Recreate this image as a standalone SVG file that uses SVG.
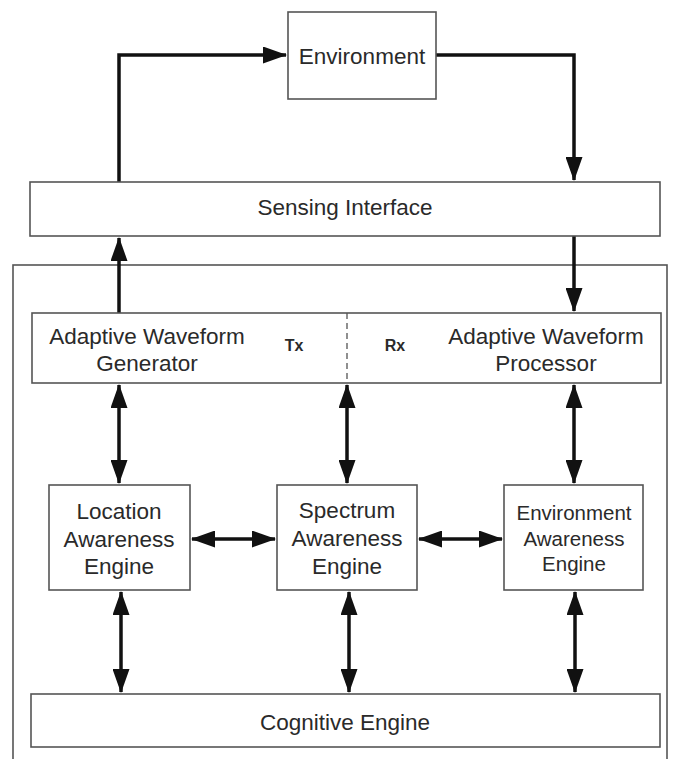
<svg xmlns="http://www.w3.org/2000/svg" width="678" height="759" viewBox="0 0 678 759">
<style>
.box{fill:#fff;stroke:#555;stroke-width:1.6}
.t{font-family:"Liberation Sans",Arial,sans-serif;font-size:22.5px;fill:#2a2a2a;text-anchor:middle}
.ts{font-size:20.5px}
.b{font-family:"Liberation Sans",Arial,sans-serif;font-size:16px;font-weight:bold;fill:#2a2a2a;text-anchor:middle}
.c{fill:none;stroke:#111;stroke-width:3.5}
</style>
<defs>
<marker id="ah" markerUnits="userSpaceOnUse" markerWidth="24" markerHeight="17" refX="23" refY="8.5" orient="auto-start-reverse">
<path d="M0,0 L24,8.5 L0,17 z" fill="#111"/>
</marker>
</defs>
<rect x="0" y="0" width="678" height="759" fill="#fff"/>
<g id="system-boundary"><rect x="13" y="265" width="654" height="510" fill="none" stroke="#555" stroke-width="1.6"/></g>
<g id="connectors">
<polyline class="c" points="119,183 119,55 286,55" marker-end="url(#ah)"/>
<polyline class="c" points="436,55 574,55 574,180" marker-end="url(#ah)"/>
<line class="c" x1="119" y1="313" x2="119" y2="238" marker-end="url(#ah)"/>
<line class="c" x1="574" y1="236" x2="574" y2="311" marker-end="url(#ah)"/>
<line class="c" x1="119" y1="385" x2="119" y2="483" marker-start="url(#ah)" marker-end="url(#ah)"/>
<line class="c" x1="347" y1="385" x2="347" y2="483" marker-start="url(#ah)" marker-end="url(#ah)"/>
<line class="c" x1="574" y1="385" x2="574" y2="483" marker-start="url(#ah)" marker-end="url(#ah)"/>
<line class="c" x1="192" y1="539" x2="275" y2="539" marker-start="url(#ah)" marker-end="url(#ah)"/>
<line class="c" x1="419" y1="539" x2="502" y2="539" marker-start="url(#ah)" marker-end="url(#ah)"/>
<line class="c" x1="121" y1="592" x2="121" y2="692" marker-start="url(#ah)" marker-end="url(#ah)"/>
<line class="c" x1="349" y1="592" x2="349" y2="692" marker-start="url(#ah)" marker-end="url(#ah)"/>
<line class="c" x1="575" y1="592" x2="575" y2="692" marker-start="url(#ah)" marker-end="url(#ah)"/>
</g>
<g id="environment"><rect class="box" x="288" y="12" width="148" height="87"/><text class="t" x="362" y="64">Environment</text></g>
<g id="sensing-interface"><rect class="box" x="30" y="182" width="630" height="54"/><text class="t" x="345" y="215">Sensing Interface</text></g>
<g id="adaptive-waveform"><rect class="box" x="32" y="313" width="629" height="70"/>
<line x1="347" y1="313" x2="347" y2="383" stroke="#555" stroke-width="1.3" stroke-dasharray="6,4"/>
<text class="t" x="147" y="344">Adaptive Waveform</text><text class="t" x="147" y="371">Generator</text>
<text class="b" x="294" y="351">Tx</text><text class="b" x="395" y="351">Rx</text>
<text class="t" x="546" y="344">Adaptive Waveform</text><text class="t" x="546" y="371">Processor</text></g>
<g id="location-awareness"><rect class="box" x="49" y="485" width="141" height="105"/>
<text class="t" x="119" y="519">Location</text><text class="t" x="119" y="547">Awareness</text><text class="t" x="119" y="574">Engine</text></g>
<g id="spectrum-awareness"><rect class="box" x="277" y="485" width="140" height="105"/>
<text class="t" x="347" y="518">Spectrum</text><text class="t" x="347" y="546">Awareness</text><text class="t" x="347" y="574">Engine</text></g>
<g id="environment-awareness"><rect class="box" x="504" y="485" width="139" height="105"/>
<text class="t ts" x="574" y="520">Environment</text><text class="t ts" x="574" y="546">Awareness</text><text class="t ts" x="574" y="571">Engine</text></g>
<g id="cognitive-engine"><rect class="box" x="31" y="694" width="629" height="53"/><text class="t" x="345" y="730">Cognitive Engine</text></g>
</svg>
